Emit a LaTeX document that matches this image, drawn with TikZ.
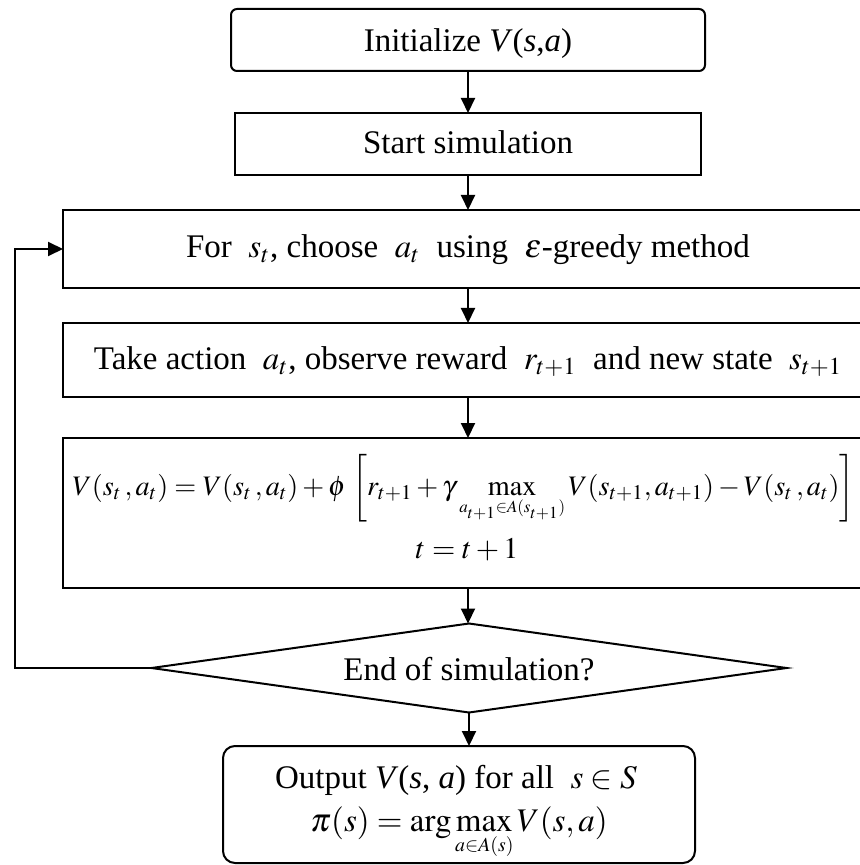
\documentclass[tikz,border=0pt]{standalone}
\usepackage{mathptmx}
\usepackage{fontspec}
\usepackage{graphicx}
\setmainfont{Liberation Serif}
\usetikzlibrary{shapes.geometric,arrows.meta}
\newcommand\figfont{\fontsize{16.5}{19.8}\selectfont}
\newcommand\eqfont{\fontsize{15}{18}\selectfont}
\begin{document}
\begin{tikzpicture}[x=0.5pt,y=-0.5pt,
  box/.style={draw, line width=1pt, inner sep=0pt, outer sep=0pt},
  dia/.style={draw, line width=1pt, diamond, aspect=7.13, inner sep=0pt, outer sep=0pt,
    minimum width=317.5pt, minimum height=44.5pt},
  txt/.style={font=\figfont, anchor=base, inner sep=0pt},
  arr/.style={line width=1pt, -{Triangle[length=7.5pt,width=7pt]}}]
\useasboundingbox (0,0) rectangle (859,865);
% shapes
\node[box, rounded corners=3pt, minimum width=237pt, minimum height=31pt] (init) at (468,40) {};
\node[box, minimum width=233pt, minimum height=31pt] (start) at (468,144) {};
\node[box, minimum width=405pt, minimum height=39pt] (choose) at (468,249) {};
\node[box, minimum width=405pt, minimum height=37pt] (take) at (468,360) {};
\node[box, minimum width=405pt, minimum height=75pt] (upd) at (468,513) {};
\node[dia] (end) at (469,668) {};
\node[box, rounded corners=6pt, minimum width=236pt, minimum height=58.5pt] (out) at (459,804.5) {};
% texts
\node[txt] (tinit) at (468,52) {Initialize \textit{V}(\textit{s},\textit{a})};
\node[txt] (tstart) at (468,154) {Start simulation};
\node[txt] (tchoose) at (468,258) {For\ \ $s_t$, choose\ \ $a_t$\ \ using\ \ $\varepsilon$-greedy method};
\node[txt] (ttake) at (468,370) {Take action\ \ $a_t$, observe reward\ \ $r_{t+1}$\ \ and new state\ \ $s_{t+1}$};
\node[txt, font=\eqfont] (teq) at (463.5,495) {\resizebox{391pt}{!}{$\displaystyle V(s_t\,,a_t)=V(s_t\,,a_t)+\phi\,\left[r_{t+1}+\gamma\max\limits_{\scriptscriptstyle a_{t+1}\in A(s_{t+1})}V(s_{t+1},a_{t+1})-V(s_t\,,a_t)\right]$}};
\node[txt, font=\eqfont] (tinc) at (467,558) {$t=t+1$};
\node[txt] (tend) at (469,680) {End of simulation?};
\node[txt] (tout1) at (456,788) {Output \textit{V}(\textit{s}, \textit{a}) for all\ \ $s\in S$};
\node[txt] (tout2) at (459,831) {$\pi(s)=\arg\max\limits_{\scriptscriptstyle a\in A(s)}V(s,a)$};
% connectors
\coordinate (loop) at (15,668);
\draw[arr] (init) -- (start);
\draw[arr] (start) -- (choose);
\draw[arr] (choose) -- (take);
\draw[arr] (take) -- (upd);
\draw[arr] (upd.south) -- (upd.south |- end.north);
\draw[arr] (end.south) -- (end.south |- out.north);
\draw[arr] (end.west) -- (loop) |- (choose.west);
\end{tikzpicture}
\end{document}
